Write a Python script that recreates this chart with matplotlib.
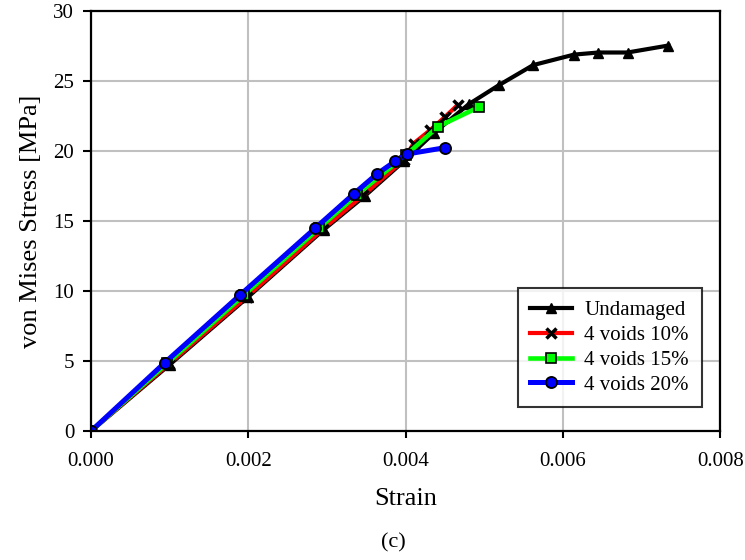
import matplotlib; matplotlib.use("Agg")
import matplotlib.pyplot as plt

# strain / von Mises stress [MPa]
undamaged_x = [0.0, 0.00100, 0.00200, 0.00296, 0.00348, 0.00398, 0.00436, 0.00480, 0.00518, 0.00562, 0.00614, 0.00645, 0.00682, 0.00734]
undamaged_y = [0.0, 4.75, 9.6, 14.4, 16.8, 19.3, 21.3, 23.35, 24.7, 26.15, 26.9, 27.05, 27.05, 27.55]
v10_x = [0.0, 0.00099, 0.00198, 0.00295, 0.00346, 0.00398, 0.00410, 0.00431, 0.00450, 0.00466]
v10_y = [0.0, 4.8, 9.6, 14.45, 16.85, 19.4, 20.55, 21.5, 22.45, 23.3]
v15_x = [0.0, 0.00097, 0.00194, 0.00290, 0.00338, 0.00400, 0.00441, 0.00493]
v15_y = [0.0, 4.85, 9.7, 14.5, 16.9, 19.7, 21.75, 23.15]
v20_x = [0.0, 0.00094, 0.00189, 0.00285, 0.00334, 0.00363, 0.00387, 0.00402, 0.00450]
v20_y = [0.0, 4.9, 9.7, 14.5, 16.95, 18.35, 19.3, 19.8, 20.25]

plt.rcParams["font.family"] = ["Liberation Serif", "DejaVu Serif"]
fig = plt.figure(figsize=(7.45, 5.6), dpi=100)
ax = fig.add_axes([0.122, 0.230, 0.845, 0.750])

ax.plot(undamaged_x, undamaged_y, color="black", lw=3, marker="^", ms=7.5, mfc="black", mec="black", label="Undamaged")
ax.plot(v10_x, v10_y, color="#ff0000", lw=3, marker="x", ms=7, mew=2.5, mec="black", label="4 voids 10%")
ax.plot(v15_x, v15_y, color="#00ff00", lw=3.3, marker="s", ms=7.5, mfc="#00ff00", mec="black", mew=1.2, label="4 voids 15%")
ax.plot(v20_x, v20_y, color="#0000ff", lw=3.6, marker="o", ms=8, mfc="#0000ff", mec="black", mew=1.3, label="4 voids 20%")

ax.set_xlim(0, 0.008); ax.set_ylim(0, 30)
ax.set_xticks([0, 0.002, 0.004, 0.006, 0.008])
ax.set_xticklabels(["0.000", "0.002", "0.004", "0.006", "0.008"])
ax.set_yticks(range(0, 31, 5))
ax.grid(True, color="#c0c0c0", lw=1.5)
ax.set_axisbelow(True)
for s in ax.spines.values():
    s.set_linewidth(1.6)
ax.tick_params(axis="x", direction="out", length=5, width=1.5, pad=10, labelsize=15)
ax.tick_params(axis="y", direction="out", length=6, width=1.5, pad=6, labelsize=15)

ax.set_xlabel("Strain", fontsize=19, labelpad=12)
ax.set_ylabel("von Mises Stress [MPa]", fontsize=19, labelpad=8)
fig.text(0.5 + 0.122 / 2 - 0.033, 1 - 543 / 560, "(c)", ha="center", va="center", fontsize=16)

leg = ax.legend(loc="lower right", bbox_to_anchor=(0.970, 0.057), borderaxespad=0, fontsize=15, frameon=True,
                fancybox=False, edgecolor="black", handlelength=2.0, handletextpad=0.6, labelspacing=0.25,
                borderpad=0.6)
leg.get_frame().set_linewidth(1.5)

plt.savefig("out.png", dpi=100)
